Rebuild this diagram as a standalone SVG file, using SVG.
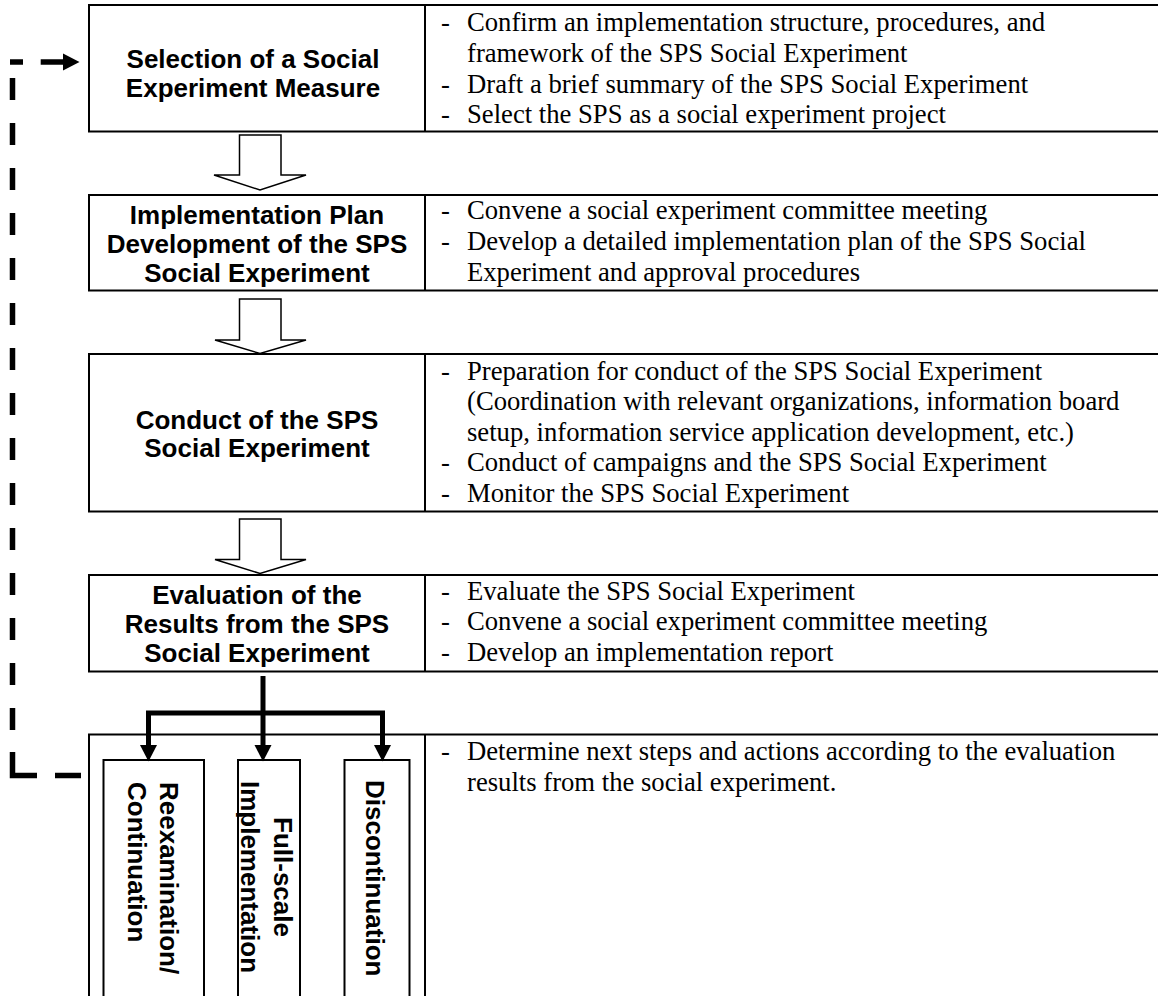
<svg xmlns="http://www.w3.org/2000/svg" width="1158" height="996" viewBox="0 0 1158 996">
<style>
.box{fill:#fff;stroke:#000;stroke-width:2}
.div{stroke:#000;stroke-width:2}
.title{font-family:"Liberation Sans",Arial,sans-serif;font-weight:bold;font-size:26px;text-anchor:middle;fill:#000}
.vt{font-family:"Liberation Sans",Arial,sans-serif;font-weight:bold;font-size:26px;fill:#000}
.body{font-family:"Liberation Serif","Times New Roman",serif;font-size:26.67px;fill:#000}
.blk{fill:#fff;stroke:#000;stroke-width:1.5;stroke-linejoin:miter}
.conn{fill:none;stroke:#000;stroke-width:5;stroke-linejoin:miter}
.dsh{fill:none;stroke:#000;stroke-width:5.5}
</style>
<rect width="1158" height="996" fill="#fff"/>
<g id="node-selection">
<rect class="box" x="89" y="5" width="1080" height="126.5"/>
<line class="div" x1="425" y1="5" x2="425" y2="131.5"/>
<text class="title" x="253" y="68">Selection of a Social</text>
<text class="title" x="253" y="97">Experiment Measure</text>
<text class="body" x="441" y="30.7">-</text><text class="body" x="467" y="30.7">Confirm an implementation structure, procedures, and</text>
<text class="body" x="467" y="61.7">framework of the SPS Social Experiment</text>
<text class="body" x="441" y="92.7">-</text><text class="body" x="467" y="92.7">Draft a brief summary of the SPS Social Experiment</text>
<text class="body" x="441" y="123.3">-</text><text class="body" x="467" y="123.3">Select the SPS as a social experiment project</text>
</g>
<g id="node-plan">
<rect class="box" x="89" y="195" width="1080" height="95.5"/>
<line class="div" x1="425" y1="195" x2="425" y2="290.5"/>
<text class="title" x="257" y="223.6">Implementation Plan</text>
<text class="title" x="257" y="252.6">Development of the SPS</text>
<text class="title" x="257" y="281.7">Social Experiment</text>
<text class="body" x="441" y="219">-</text><text class="body" x="467" y="219">Convene a social experiment committee meeting</text>
<text class="body" x="441" y="250">-</text><text class="body" x="467" y="250">Develop a detailed implementation plan of the SPS Social</text>
<text class="body" x="467" y="281">Experiment and approval procedures</text>
</g>
<g id="node-conduct">
<rect class="box" x="89" y="354" width="1080" height="157.5"/>
<line class="div" x1="425" y1="354" x2="425" y2="511.5"/>
<text class="title" x="257" y="428.5">Conduct of the SPS</text>
<text class="title" x="257" y="457">Social Experiment</text>
<text class="body" x="441" y="379.5">-</text><text class="body" x="467" y="379.5">Preparation for conduct of the SPS Social Experiment</text>
<text class="body" x="467" y="410">(Coordination with relevant organizations, information board</text>
<text class="body" x="467" y="440.5">setup, information service application development, etc.)</text>
<text class="body" x="441" y="471">-</text><text class="body" x="467" y="471">Conduct of campaigns and the SPS Social Experiment</text>
<text class="body" x="441" y="501.5">-</text><text class="body" x="467" y="501.5">Monitor the SPS Social Experiment</text>
</g>
<g id="node-evaluation">
<rect class="box" x="89" y="575" width="1080" height="96.5"/>
<line class="div" x1="425" y1="575" x2="425" y2="671.5"/>
<text class="title" x="257" y="603.6">Evaluation of the</text>
<text class="title" x="257" y="632.6">Results from the SPS</text>
<text class="title" x="257" y="661.7">Social Experiment</text>
<text class="body" x="441" y="599.5">-</text><text class="body" x="467" y="599.5">Evaluate the SPS Social Experiment</text>
<text class="body" x="441" y="630">-</text><text class="body" x="467" y="630">Convene a social experiment committee meeting</text>
<text class="body" x="441" y="660.5">-</text><text class="body" x="467" y="660.5">Develop an implementation report</text>
</g>
<g id="node-decision">
<rect class="box" x="89" y="734.5" width="1080" height="280"/>
<line class="div" x1="425" y1="734.5" x2="425" y2="1000"/>
<text class="body" x="441" y="759.5">-</text><text class="body" x="467" y="759.5">Determine next steps and actions according to the evaluation</text>
<text class="body" x="467" y="790.5">results from the social experiment.</text>
</g>
<g id="node-reexamination">
<rect class="box" x="103.5" y="760" width="100.5" height="260"/>
<text class="vt" transform="translate(160,782) rotate(90)">Reexamination/</text>
<text class="vt" transform="translate(127.5,782) rotate(90)">Continuation</text>
</g>
<g id="node-fullscale">
<rect class="box" x="238" y="760" width="62" height="260"/>
<text class="vt" text-anchor="middle" transform="translate(274,877) rotate(90)">Full-scale</text>
<text class="vt" text-anchor="middle" transform="translate(240.5,877) rotate(90)">Implementation</text>
</g>
<g id="node-discontinuation">
<rect class="box" x="344.5" y="760" width="65" height="260"/>
<text class="vt" transform="translate(365.5,780) rotate(90)">Discontinuation</text>
</g>
<g id="connectors">
<polygon class="blk" points="239.5,135 281,135 281,175 306,175 260,190 214,175 239.5,175"/>
<polygon class="blk" points="239.5,299 281,299 281,340 306,340 260,353.5 215,340 239.5,340"/>
<polygon class="blk" points="239.5,519 281,519 281,559.5 306,559.5 260,573.5 215,559.5 239.5,559.5"/>
<path class="conn" d="M263,676 V746"/>
<path class="conn" d="M148.5,746 V713 H382.5 V746"/>
<polygon points="140,745 157,745 148.5,761.5"/>
<polygon points="254.5,745 271.5,745 263,761.5"/>
<polygon points="374,745 391,745 382.5,761.5"/>
<path class="dsh" d="M12.5,78 V752" stroke-dasharray="22 23"/>
<path class="dsh" d="M12.5,752 V775.5 H37" stroke-linejoin="miter"/>
<path class="dsh" d="M55,775.5 H81"/>
<path class="dsh" d="M10,62 H23"/>
<path class="dsh" d="M40.7,62 H64"/>
<polygon points="63,53.5 79.5,62 63,70.5"/>
</g>
</svg>
